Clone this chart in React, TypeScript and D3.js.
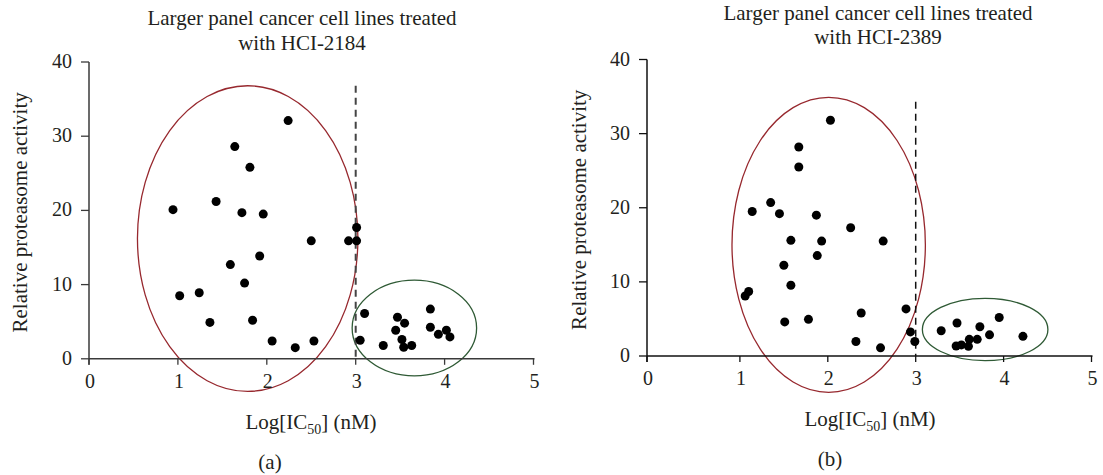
import React from "react";
import * as d3 from "d3";

// Panel (a): HCI-2184
const xA: number[] = [2.24, 1.64, 1.81, 0.945, 1.43, 1.72, 1.96, 3.01, 2.5, 2.92, 3.01, 1.92, 1.59, 1.75, 1.02, 1.24, 1.36, 1.84, 2.06, 2.32, 2.53, 3.1, 3.05,
  3.31, 3.47, 3.55, 3.45, 3.52, 3.54, 3.63, 3.84, 3.84, 3.93, 4.02, 4.06];
const yA: number[] = [32.1, 28.6, 25.8, 20.1, 21.2, 19.7, 19.5, 17.7, 15.9, 15.9, 15.9, 13.85, 12.7, 10.2, 8.5, 8.9, 4.9, 5.2, 2.4, 1.5, 2.4, 6.1, 2.5,
  1.8, 5.6, 4.8, 3.85, 2.6, 1.55, 1.8, 6.7, 4.25, 3.3, 3.85, 2.95];

// Panel (b): HCI-2389
const xB: number[] = [2.03, 1.67, 1.67, 1.14, 1.35, 1.45, 1.87, 2.26, 1.58, 1.93, 2.63, 1.88, 1.5, 1.58, 1.1, 1.06, 1.51, 1.78, 2.38, 2.32, 2.6, 2.89, 2.94, 2.99,
  3.29, 3.47, 3.46, 3.52, 3.6, 3.61, 3.7, 3.73, 3.84, 3.95, 4.22];
const yB: number[] = [31.8, 28.2, 25.5, 19.5, 20.7, 19.2, 19.0, 17.3, 15.6, 15.5, 15.5, 13.55, 12.25, 9.55, 8.7, 8.1, 4.6, 4.95, 5.8, 1.95, 1.1, 6.35, 3.25, 1.95,
  3.4, 4.45, 1.35, 1.5, 1.3, 2.25, 2.25, 3.95, 2.85, 5.2, 2.65];

const xTicks: number[] = [0, 1, 2, 3, 4, 5];
const yTicks: number[] = [0, 10, 20, 30, 40];
const titlesLine1: string[] = ["Larger panel cancer cell lines treated", "Larger panel cancer cell lines treated"];
const titlesLine2: string[] = ["with HCI-2184", "with HCI-2389"];
const panelLabels: string[] = ["(a)", "(b)"];
// ellipse annotations [cx, cy, rx, ry] in data units
const redEllipse: number[][] = [[1.785, 16.2, 1.24, 20.6], [2.01, 15.0, 1.1, 19.9]];
const greenEllipse: number[][] = [[3.66, 4.15, 0.7, 6.45], [3.79, 3.58, 0.714, 4.2]];
const dashTop: number[] = [36.8, 34.3];

const FONT = "Liberation Serif";

type PanelCfg = {
  xs: number[]; ys: number[]; xr: [number, number]; yr: [number, number];
  axisX: number; axisColor: string; titleY: number; titleGap: number; titleX: number; labelX: number;
  panelX: number; ylabX: number; dashColor: string; dashW: number; idx: number;
};

function Panel(p: PanelCfg) {
  const x = d3.scaleLinear().domain([0, 5]).range(p.xr);
  const y = d3.scaleLinear().domain([0, 40]).range(p.yr);
  const y0 = y(0);
  const red = redEllipse[p.idx];
  const green = greenEllipse[p.idx];
  const fs = 20;
  const ts = { fontFamily: FONT } as React.CSSProperties;
  return (
    <g style={ts} fill="#231f20">
      <text x={p.titleX} y={p.titleY} textAnchor="middle" fontSize={21} style={ts}>{titlesLine1[p.idx]}</text>
      <text x={p.titleX} y={p.titleY + p.titleGap} textAnchor="middle" fontSize={21} style={ts}>{titlesLine2[p.idx]}</text>
      {/* ellipses */}
      <ellipse cx={x(red[0])} cy={y(red[1])} rx={x(red[2]) - x(0)} ry={y(0) - y(red[3])} fill="none" stroke="#97282e" strokeWidth={1.3} />
      <ellipse cx={x(green[0])} cy={y(green[1])} rx={x(green[2]) - x(0)} ry={y(0) - y(green[3])} fill="none" stroke="#2f5a35" strokeWidth={1.3} />
      {/* dashed line */}
      <line x1={x(3)} x2={x(3)} y1={y(dashTop[p.idx])} y2={y0} stroke={p.dashColor} strokeWidth={p.dashW} strokeDasharray="7,5" />
      {/* axes */}
      <line x1={p.axisX} x2={x(5) + 1} y1={y0} y2={y0} stroke={p.axisColor} strokeWidth={1.5} />
      <line x1={p.axisX} x2={p.axisX} y1={y(40)} y2={y0 + 6} stroke={p.axisColor} strokeWidth={1.5} />
      {xTicks.map((t) => {
        const tx = t === 0 ? p.axisX : x(t);
        return (
          <g key={"xt" + t}>
            <line x1={tx} x2={tx} y1={y0} y2={y0 + 6} stroke={p.axisColor} strokeWidth={1.3} />
            <text x={tx + 1} y={y0 + 29} textAnchor="middle" fontSize={fs} style={ts}>{t}</text>
          </g>
        );
      })}
      {yTicks.map((t) => (
        <g key={"yt" + t}>
          <line x1={p.axisX - 8} x2={p.axisX} y1={y(t)} y2={y(t)} stroke={p.axisColor} strokeWidth={1.3} />
          <text x={p.axisX - 17} y={y(t) + 6} textAnchor="end" fontSize={fs} style={ts}>{t}</text>
        </g>
      ))}
      {/* points */}
      {p.xs.map((v, i) => (
        <circle key={i} cx={x(v)} cy={y(p.ys[i])} r={4.5} fill="#000" />
      ))}
      {/* axis labels */}
      <text x={p.labelX} y={y0 + 70} textAnchor="middle" fontSize={21} style={ts}>
        Log[IC<tspan fontSize={14} dy={5}>50</tspan><tspan dy={-5}>] (nM)</tspan>
      </text>
      <text transform={`translate(${p.ylabX},${(y(40) + y0) / 2 + 2}) rotate(-90)`} textAnchor="middle" fontSize={21} style={ts}>
        Relative proteasome activity
      </text>
      <text x={p.panelX} y={y0 + 110} textAnchor="middle" fontSize={21} style={ts}>{panelLabels[p.idx]}</text>
    </g>
  );
}

export default function App() {
  return (
    <svg width={1103} height={475} style={{ position: "absolute", left: 0, top: 0, background: "#fff" }}>
      <rect width={1103} height={475} fill="#fff" />
      <Panel xs={xA} ys={yA} xr={[89, 533.5]} yr={[358.8, 62]} axisX={89} axisColor="#3a3a3a"
        titleY={25} titleGap={25} titleX={302} labelX={311} panelX={270} ylabX={27} dashColor="#444" dashW={2} idx={0} />
      <Panel xs={xB} ys={yB} xr={[652, 1091.5]} yr={[356, 59.5]} axisX={647} axisColor="#111"
        titleY={20} titleGap={24} titleX={878} labelX={870} panelX={830} ylabX={586} dashColor="#111" dashW={1.5} idx={1} />
    </svg>
  );
}
